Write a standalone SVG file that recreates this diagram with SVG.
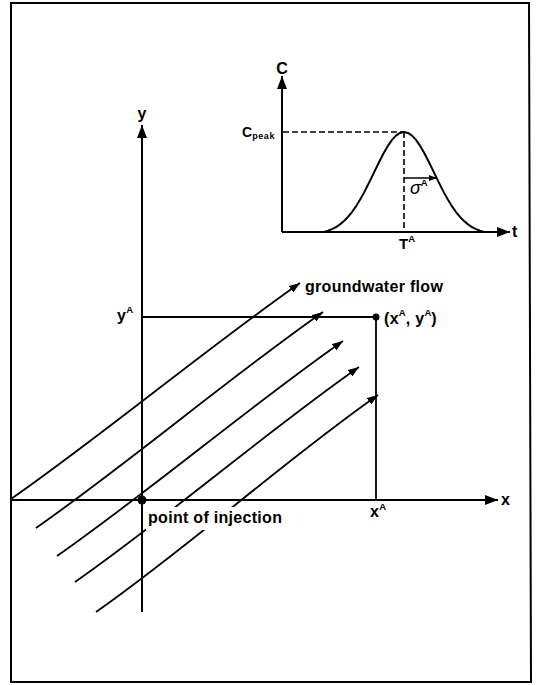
<svg xmlns="http://www.w3.org/2000/svg" width="542" height="685" viewBox="0 0 542 685">
  <style>
    text { font-family: "Liberation Sans", Arial, Helvetica, sans-serif; font-weight: bold; fill: #000; }
    .lbl { font-size: 16px; letter-spacing: 0.3px; }
    .sup { font-size: 9.5px; letter-spacing: 0; }
    .ax { stroke: #000; stroke-width: 2; fill: none; }
    .thin { stroke: #000; stroke-width: 1.8; fill: none; }
    .flow { stroke: #000; stroke-width: 1.8; fill: none; marker-end: url(#ah); }
    .dash { stroke: #000; stroke-width: 1.6; fill: none; stroke-dasharray: 6 3; }
  </style>
  <defs>
    <marker id="ah" markerUnits="userSpaceOnUse" markerWidth="11" markerHeight="8" refX="11" refY="4" orient="auto">
      <path d="M0,0 L11,4 L0,8 z" fill="#000"/>
    </marker>
    <marker id="axh" markerUnits="userSpaceOnUse" markerWidth="13" markerHeight="10" refX="13" refY="5" orient="auto">
      <path d="M0,0 L13,5 L0,10 z" fill="#000"/>
    </marker>
    <marker id="sh" markerUnits="userSpaceOnUse" markerWidth="8" markerHeight="6" refX="8" refY="3" orient="auto">
      <path d="M0,0 L8,3 L0,6 z" fill="#000"/>
    </marker>
    <mask id="textgap" maskUnits="userSpaceOnUse" x="0" y="0" width="542" height="685">
      <rect x="0" y="0" width="542" height="685" fill="#fff"/>
      <rect x="146" y="507" width="140" height="23" fill="#000"/>
    </mask>
  </defs>

  <rect width="542" height="685" fill="#fff"/>

  <!-- frame -->
  <path id="frame" d="M11,3 L529,3 L531,682 L11,682 Z" fill="none" stroke="#000" stroke-width="2"/>

  <!-- main axes -->
  <g id="axes">
    <line class="ax" x1="142" y1="612" x2="142" y2="125" marker-end="url(#axh)"/>
    <line class="ax" x1="11" y1="500" x2="498" y2="500" marker-end="url(#axh)"/>
    <text x="142" y="119" text-anchor="middle" style="font-size:16px">y</text>
    <text x="501" y="505" style="font-size:16px">x</text>
  </g>

  <!-- observation point -->
  <g id="observation">
    <polyline class="thin" points="142,317 376,317 376,500"/>
    <circle cx="376" cy="317" r="3.5" fill="#000"/>
    <text class="lbl" x="384" y="324">(x<tspan class="sup" dy="-8">A</tspan><tspan dy="8">, y</tspan><tspan class="sup" dy="-8">A</tspan><tspan dy="8">)</tspan></text>
    <text class="lbl" x="117" y="321">y<tspan class="sup" dy="-8">A</tspan></text>
    <text class="lbl" x="370" y="517">x<tspan class="sup" dy="-7">A</tspan></text>
  </g>

  <!-- injection point -->
  <g id="injection">
    <circle cx="142" cy="500" r="4.5" fill="#000"/>
    <text class="lbl" x="148" y="523">point of injection</text>
  </g>

  <!-- groundwater flow lines -->
  <g id="connectors" mask="url(#textgap)">
    <path class="flow" d="M11,499 C107.3,431.6 203.7,350.4 300,283"/>
    <path class="flow" d="M36,528 C131.7,461 227.3,379 323,312"/>
    <path class="flow" d="M57,556 C152.3,489.3 247.7,407.7 343,341"/>
    <path class="flow" d="M75,582 C169.7,515.7 264.3,433.3 359,367"/>
    <path class="flow" d="M96,612 C190,546.2 284,460.8 378,395"/>
  </g>
  <g id="flow-label">
    <text class="lbl" x="305" y="292">groundwater flow</text>
  </g>

  <!-- breakthrough curve inset -->
  <g id="inset">
    <line class="ax" x1="282" y1="232" x2="282" y2="76" marker-end="url(#axh)"/>
    <line class="ax" x1="282" y1="232" x2="510" y2="232" marker-end="url(#axh)"/>
    <text x="282" y="74" text-anchor="middle" style="font-size:16px">C</text>
    <text x="512" y="237" style="font-size:16px">t</text>
    <line class="dash" x1="283" y1="132" x2="404" y2="132"/>
    <line class="dash" x1="404" y1="132" x2="404" y2="232"/>
    <path class="ax" d="M324,232 L328,230.78 L332,229.16 L336,227.05 L340,224.36 L344,221.01 L348,216.91 L352,212.02 L356,206.32 L360,199.83 L364,192.62 L368,184.83 L372,176.66 L376,168.35 L380,160.19 L384,152.51 L388,145.65 L392,139.91 L396,135.6 L400,132.91 L404,132 L408,132.91 L412,135.6 L416,139.91 L420,145.65 L424,152.51 L428,160.19 L432,168.35 L436,176.66 L440,184.83 L444,192.62 L448,199.83 L452,206.32 L456,212.02 L460,216.91 L464,221.01 L468,224.36 L472,227.05 L476,229.16 L480,230.78 L484,232" stroke-linejoin="round"/>
    <line stroke="#000" stroke-width="1.6" x1="404" y1="178" x2="437" y2="178" marker-end="url(#sh)"/>
    <text x="242" y="137" style="font-size:14px">C<tspan style="font-size:9px; letter-spacing:0.6px" dy="2">peak</tspan></text>
    <text x="410" y="194" style="font-size:18px; font-style:italic; font-weight:normal">σ<tspan class="sup" dy="-8" style="font-style:normal; font-weight:bold">A</tspan></text>
    <text x="399" y="249" style="font-size:15px">T<tspan class="sup" dy="-7">A</tspan></text>
  </g>
</svg>
